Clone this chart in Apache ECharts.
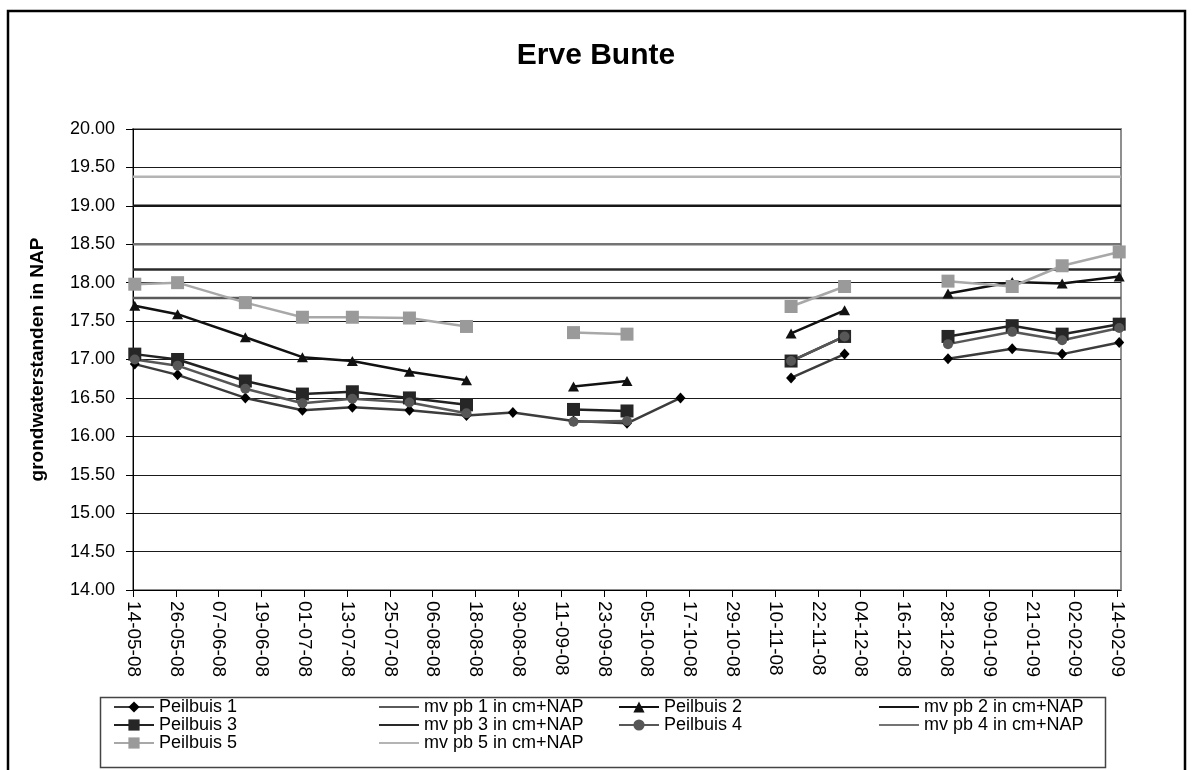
<!DOCTYPE html>
<html>
<head>
<meta charset="utf-8">
<title>Erve Bunte</title>
<script src="https://cdn.jsdelivr.net/npm/echarts@6/dist/echarts.min.js"></script>
<style>
  html, body { margin: 0; padding: 0; background: #fff; }
  #chart { width: 1192px; height: 770px; }
</style>
</head>
<body>
<div id="chart"></div>
<script>
// Date axis: ticks every 12 days from the first to the last measuring day
const startDate = '2008-05-14';
const endDate = '2009-02-14';
const tickStepDays = 12;

// Measuring days (null rows mark breaks in the lines)
const measureDates = ['2008-05-14', '2008-05-26', '2008-06-14', '2008-06-30', '2008-07-14', '2008-07-30',
  '2008-08-15', '2008-08-28', '2008-09-14', '2008-09-29', '2008-10-14', '2008-10-29', '2008-11-14',
  '2008-11-29', '2008-12-14', '2008-12-28', '2009-01-15', '2009-01-29', '2009-02-14'];

// Groundwater levels per well (m + NAP)
const peilbuis1 = [16.94, 16.80, 16.50, 16.34, 16.38, 16.34, 16.27, 16.31, 16.20, 16.17, 16.50, null, 16.76, 17.07, null, 17.01, 17.14, 17.07, 17.22];
const peilbuis2 = [17.70, 17.59, 17.29, 17.03, 16.98, 16.84, 16.73, null, 16.65, 16.72, null, null, 17.34, 17.64, null, 17.86, 18.01, 17.99, 18.08];
const peilbuis3 = [17.07, 17.00, 16.72, 16.55, 16.58, 16.50, 16.41, null, 16.35, 16.33, null, null, 16.98, 17.30, null, 17.30, 17.44, 17.33, 17.46];
const peilbuis4 = [17.00, 16.92, 16.62, 16.43, 16.49, 16.44, 16.30, null, 16.19, 16.20, null, null, 16.98, 17.30, null, 17.20, 17.36, 17.25, 17.41];
const peilbuis5 = [17.98, 18.00, 17.74, 17.55, 17.55, 17.54, 17.43, null, 17.35, 17.33, null, null, 17.69, 17.95, null, 18.02, 17.95, 18.22, 18.40];

// Ground level (maaiveld) at each well
const maaiveld = [17.80, 19.00, 18.17, 18.50, 19.38];

// Value axis
const yMin = 14.0;
const yMax = 20.0;
const yStep = 0.5;

const DAY_MS = 86400000;
const dayIndex = s => Math.round((Date.parse(s) - Date.parse(startDate)) / DAY_MS);
const spanDays = dayIndex(endDate);
// each day is a one-day slot; a measurement sits in the middle of its slot
const slotX = s => dayIndex(s) + 0.5;

const tickDays = [];
for (let d = 0; d <= spanDays; d += tickStepDays) tickDays.push(d);

const pad2 = n => (n < 10 ? '0' : '') + n;
const dayLabel = d => {
  const t = new Date(Date.parse(startDate) + d * DAY_MS);
  return pad2(t.getUTCDate()) + '-' + pad2(t.getUTCMonth() + 1) + '-' + pad2(t.getUTCFullYear() % 100);
};

const FONT = '"Liberation Sans", Arial, sans-serif';

const wells = [
  { name: 'Peilbuis 1', values: peilbuis1, symbol: 'diamond', size: [10, 11], line: '#3c3c3c', mark: '#000000' },
  { name: 'Peilbuis 2', values: peilbuis2, symbol: 'triangle', size: [11, 10], line: '#111111', mark: '#111111' },
  { name: 'Peilbuis 3', values: peilbuis3, symbol: 'rect', size: 13, line: '#222222', mark: '#262626' },
  { name: 'Peilbuis 4', values: peilbuis4, symbol: 'circle', size: 10, line: '#575757', mark: '#575757' },
  { name: 'Peilbuis 5', values: peilbuis5, symbol: 'rect', size: 13, line: '#a8a8a8', mark: '#9a9a9a' }
];
const groundColors = ['#5a5a5a', '#161616', '#2a2a2a', '#747474', '#b4b4b4'];
const groundNames = maaiveld.map((v, i) => 'mv pb ' + (i + 1) + ' in cm+NAP');

const series = [];
wells.forEach((w, i) => {
  series.push({
    name: w.name,
    type: 'line',
    data: measureDates.map((d, k) => [slotX(d), w.values[k]]),
    symbol: w.symbol,
    symbolSize: w.size,
    showAllSymbol: true,
    connectNulls: false,
    lineStyle: { color: w.line, width: 2.5 },
    itemStyle: { color: w.mark, borderWidth: 0 },
    emphasis: { disabled: true },
    animation: false
  });
  // ground level: a plain line across the whole period, no markers (also in the legend)
  series.push({
    name: groundNames[i],
    type: 'line',
    data: [[0, maaiveld[i]], [spanDays + 1, maaiveld[i]]],
    symbol: 'none',
    lineStyle: { color: groundColors[i], width: 2.5 },
    itemStyle: { color: groundColors[i], opacity: 0 },
    emphasis: { disabled: true },
    animation: false
  });
});

const legendBase = {
  orient: 'vertical',
  top: 693,
  itemWidth: 40,
  itemHeight: 14,
  itemGap: 0,
  selectedMode: false,
  textStyle: { fontFamily: FONT, fontSize: 18, lineHeight: 17, color: '#000' }
};

const option = {
  backgroundColor: '#ffffff',
  animation: false,
  title: {
    text: 'Erve Bunte',
    left: 'center',
    top: 36,
    textStyle: { fontFamily: FONT, fontSize: 30, fontWeight: 'bold', color: '#000' }
  },
  grid: {
    left: 133, right: 71, top: 129, bottom: 180,
    show: true, borderColor: '#8f8f8f', borderWidth: 2, backgroundColor: '#fff'
  },
  xAxis: {
    type: 'value',
    min: 0,
    max: spanDays + 1,
    splitLine: { show: false },
    axisLine: { show: true, lineStyle: { color: '#000', width: 1 } },
    axisTick: { show: true, length: 7, lineStyle: { color: '#000' }, customValues: tickDays },
    axisLabel: {
      rotate: -90, margin: 11, color: '#000', fontFamily: FONT, fontSize: 19,
      customValues: tickDays,
      formatter: v => dayLabel(v)
    }
  },
  yAxis: {
    type: 'value',
    min: yMin,
    max: yMax,
    interval: yStep,
    name: 'grondwaterstanden in NAP',
    nameLocation: 'middle',
    nameRotate: 90,
    nameGap: 86,
    nameTextStyle: { fontFamily: FONT, fontSize: 19, fontWeight: 'bold', color: '#000' },
    axisLine: { show: true, lineStyle: { color: '#000', width: 1 } },
    axisTick: { show: true, length: 7, lineStyle: { color: '#000' } },
    splitLine: { show: true, lineStyle: { color: '#1a1a1a', width: 1 } },
    axisLabel: {
      margin: 18, color: '#000', fontFamily: FONT, fontSize: 18,
      formatter: v => v.toFixed(2)
    }
  },
  legend: [
    Object.assign({}, legendBase, { left: 108, data: ['Peilbuis 1', 'Peilbuis 3', 'Peilbuis 5'] }),
    Object.assign({}, legendBase, { left: 373, data: [groundNames[0], groundNames[2], groundNames[4]] }),
    Object.assign({}, legendBase, { left: 613, data: ['Peilbuis 2', 'Peilbuis 4'] }),
    Object.assign({}, legendBase, { left: 873, data: [groundNames[1], groundNames[3]] })
  ],
  graphic: [
    { type: 'rect', silent: true, z: 100,
      shape: { x: 8, y: 11, width: 1177, height: 800 },
      style: { fill: 'none', stroke: '#000', lineWidth: 2.5 } },
    { type: 'rect', silent: true, z: 100,
      shape: { x: 100.5, y: 697.5, width: 1005, height: 70 },
      style: { fill: 'none', stroke: '#444', lineWidth: 1.5 } }
  ],
  series: series
};

const chart = echarts.init(document.getElementById('chart'), null, { renderer: 'canvas' });
chart.setOption(option);
</script>
</body>
</html>
